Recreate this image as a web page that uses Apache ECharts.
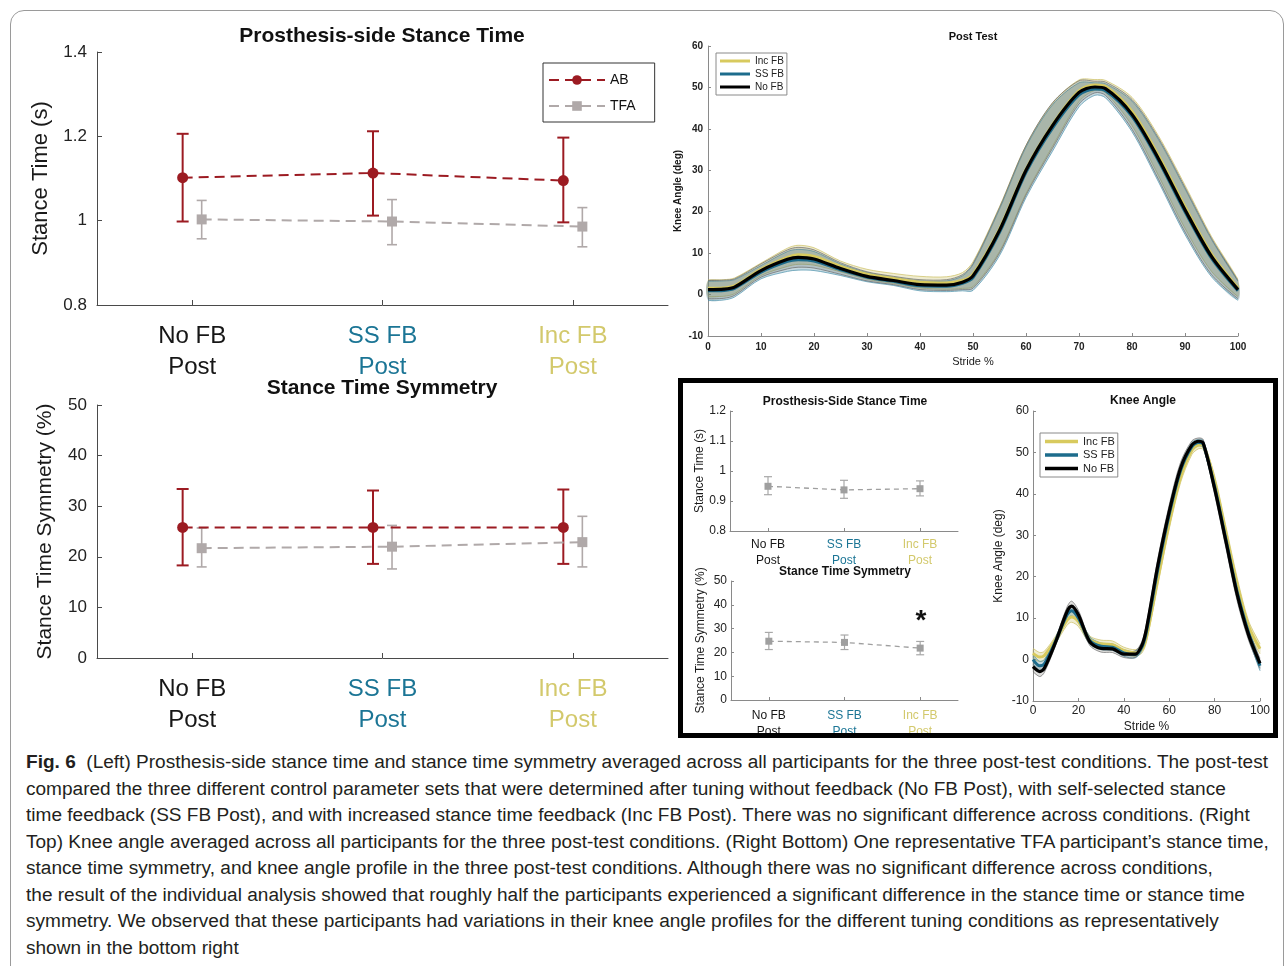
<!DOCTYPE html>
<html>
<head>
<meta charset="utf-8">
<script src="https://cdn.jsdelivr.net/npm/echarts@6/dist/echarts.min.js"></script>
<style>
  html, body { margin: 0; padding: 0; background: #fff; }
  #wrap { position: relative; width: 1285px; height: 966px; overflow: hidden; }
  #frame { position: absolute; left: 10px; top: 10px; width: 1272px; height: 1000px; border: 1px solid #9a9a9a; border-radius: 14px; }
  #chart { position: absolute; left: 0; top: 0; width: 1285px; height: 745px; }
  #caption { position: absolute; left: 26px; top: 749px; font-family: "Liberation Sans Narrow", "Liberation Sans", sans-serif; font-size: 18px; line-height: 26.5px; color: #231f20; transform-origin: 0 0; }
  #caption div { white-space: nowrap; }
  #caption b { font-weight: bold; }
</style>
</head>
<body>
<div id="wrap">
  <div id="frame"></div>
  <div id="chart"></div>
  <div id="caption">
    <div><span id="firstLine"><b>Fig. 6</b>&nbsp; (Left) Prosthesis-side stance time and stance time symmetry averaged across all participants for the three post-test conditions. The post-test</span></div>
    <div>compared the three different control parameter sets that were determined after tuning without feedback (No FB Post), with self-selected stance</div>
    <div>time feedback (SS FB Post), and with increased stance time feedback (Inc FB Post). There was no significant difference across conditions. (Right</div>
    <div>Top) Knee angle averaged across all participants for the three post-test conditions. (Right Bottom) One representative TFA participant’s stance time,</div>
    <div>stance time symmetry, and knee angle profile in the three post-test conditions. Although there was no significant difference across conditions,</div>
    <div>the result of the individual analysis showed that roughly half the participants experienced a significant difference in the stance time or stance time</div>
    <div>symmetry. We observed that these participants had variations in their knee angle profiles for the different tuning conditions as representatively</div>
    <div>shown in the bottom right</div>
  </div>
</div>
<script>
const conditions = ["No FB", "SS FB", "Inc FB"];
const conditionColors = ["#161616", "#1b7595", "#d3c96c"];

// left: all participants, mean with error bar ends
const abTime = [1.102, 1.113, 1.095];
const abTimeLow = [0.998, 1.012, 0.996];
const abTimeHigh = [1.206, 1.212, 1.197];
const tfaTime = [1.003, 0.998, 0.986];
const tfaTimeLow = [0.957, 0.943, 0.938];
const tfaTimeHigh = [1.048, 1.05, 1.031];

const abSym = [25.8, 25.8, 25.8];
const abSymLow = [18.3, 18.6, 18.6];
const abSymHigh = [33.4, 33.1, 33.3];
const tfaSym = [21.7, 22.0, 22.9];
const tfaSymLow = [18.0, 17.6, 18.0];
const tfaSymHigh = [25.7, 26.2, 28.0];

// right bottom: one TFA participant
const repTime = [0.949, 0.937, 0.941];
const repTimeLow = [0.921, 0.909, 0.917];
const repTimeHigh = [0.981, 0.969, 0.967];
const repSym = [24.7, 24.2, 21.8];
const repSymLow = [21.2, 21.2, 19.0];
const repSymHigh = [28.4, 27.3, 24.6];

// knee angle curves
const stride = [0, 3, 5, 10, 15, 17, 20, 25, 30, 35, 40, 45, 48, 50, 55, 60, 65, 70, 73, 75, 80, 85, 90, 95, 100];

const postIncFb = [1.5, 1.6, 2.1, 6.1, 9.0, 9.6, 9.2, 6.8, 4.9, 3.9, 3.0, 2.8, 3.4, 4.9, 15.8, 30.2, 41.0, 49.2, 50.6, 50.2, 44.2, 33.5, 21.2, 9.8, 1.6];
const postSsFb = [0.9, 1.0, 1.5, 5.4, 8.0, 8.4, 8.1, 6.0, 4.2, 3.2, 2.1, 2.0, 2.7, 4.1, 15.0, 29.5, 40.2, 48.2, 49.6, 49.2, 43.0, 32.3, 20.0, 8.8, 0.9];
const postNoFb = [1.2, 1.3, 1.8, 5.8, 8.5, 9.0, 8.6, 6.3, 4.4, 3.4, 2.4, 2.3, 3.0, 4.5, 15.5, 30.0, 40.8, 48.8, 50.1, 49.7, 43.5, 32.8, 20.5, 9.2, 1.2];
const postIncFbSd = [2.0, 2.0, 1.9, 1.5, 2.2, 2.3, 2.1, 1.3, 1.2, 1.2, 1.4, 1.5, 1.9, 3.0, 5.4, 5.8, 5.2, 2.6, 1.3, 1.5, 3.4, 4.8, 5.2, 4.2, 2.1];
const postSsFbSd = [2.3, 2.3, 2.1, 1.6, 2.4, 2.5, 2.3, 1.4, 1.1, 1.0, 1.2, 1.3, 1.8, 3.1, 5.6, 6.1, 5.6, 2.9, 1.5, 1.7, 3.7, 5.1, 5.5, 4.5, 2.3];
const postNoFbSd = [2.2, 2.2, 2.0, 1.6, 2.3, 2.4, 2.2, 1.4, 1.1, 1.0, 1.2, 1.3, 1.8, 3.0, 5.5, 6.0, 5.5, 2.8, 1.4, 1.6, 3.6, 5.0, 5.4, 4.4, 2.2];

const repIncFb = [1.5, 0.6, 1.0, 4.8, 9.5, 10.3, 9.2, 4.8, 3.8, 3.6, 2.2, 1.6, 2.5, 5.5, 19.5, 33.0, 44.0, 50.5, 51.8, 51.6, 43.0, 30.5, 18.0, 8.0, 2.6];
const repSsFb = [0.0, -1.5, -1.0, 4.5, 10.8, 11.8, 10.0, 4.6, 3.2, 3.0, 1.6, 1.2, 3.0, 6.8, 21.8, 35.0, 45.6, 51.4, 52.4, 52.0, 41.8, 29.0, 16.2, 6.4, -1.5];
const repNoFb = [-1.7, -2.9, -2.1, 4.3, 11.6, 12.9, 10.8, 4.3, 2.7, 2.6, 1.3, 1.3, 3.5, 7.5, 22.8, 35.7, 46.2, 51.8, 52.7, 52.2, 41.3, 28.5, 15.6, 5.9, -0.9];
const repIncFbSd = [1.2, 1.1, 1.0, 0.9, 1.2, 1.3, 1.2, 0.9, 0.9, 0.9, 0.8, 0.8, 0.9, 1.2, 1.5, 1.5, 1.3, 1.0, 0.9, 0.9, 1.4, 1.6, 1.6, 1.3, 1.2];
const repSsFbSd = [1.1, 1.1, 1.0, 0.9, 1.1, 1.2, 1.1, 0.9, 0.8, 0.8, 0.8, 0.8, 0.9, 1.2, 1.6, 1.6, 1.4, 1.0, 0.8, 0.9, 1.4, 1.6, 1.6, 1.3, 1.2];
const repNoFbSd = [1.2, 1.2, 1.0, 0.9, 1.1, 1.2, 1.1, 0.9, 0.9, 0.9, 0.8, 0.8, 0.9, 1.2, 1.6, 1.6, 1.4, 1.0, 0.8, 0.9, 1.4, 1.6, 1.6, 1.3, 1.2];

const FONT = "Liberation Sans, Arial, sans-serif";
const AB_RED = "#9c1b22";
const TFA_GRAY = "#b0a9a9";
const INC = "#d8ca5e", SS = "#1d6c8c", NO = "#000000";
const SMOOTH = 0.3;

function points(values, offset) {
  return values.map((v, i) => [i + 1 + offset, v]);
}

function errorBars(name, low, high, offset, grid, color, cap, width) {
  return {
    type: "custom",
    name: name,
    xAxisIndex: grid,
    yAxisIndex: grid,
    z: 2,
    silent: true,
    data: low.map((v, i) => [i + 1 + offset, v, high[i]]),
    encode: { x: 0, y: [1, 2] },
    renderItem(params, api) {
      const x = api.value(0);
      const lo = api.coord([x, api.value(1)]);
      const hi = api.coord([x, api.value(2)]);
      const style = { stroke: color, lineWidth: width };
      return {
        type: "group",
        children: [
          { type: "line", shape: { x1: lo[0], y1: lo[1], x2: hi[0], y2: hi[1] }, style },
          { type: "line", shape: { x1: lo[0] - cap, y1: lo[1], x2: lo[0] + cap, y2: lo[1] }, style },
          { type: "line", shape: { x1: hi[0] - cap, y1: hi[1], x2: hi[0] + cap, y2: hi[1] }, style },
        ],
      };
    },
  };
}

function meanLine(name, values, offset, grid, color, symbol, size, width, dash) {
  return {
    type: "line",
    name: name,
    xAxisIndex: grid,
    yAxisIndex: grid,
    z: 3,
    data: points(values, offset),
    symbol: symbol,
    symbolSize: size,
    itemStyle: { color: color },
    lineStyle: { color: color, width: width, type: dash },
  };
}

// shaded mean +- sd band, drawn once as a polygon through the axes' scales
function band(key, mean, sd, grid, edge, fill) {
  return {
    type: "custom", name: key, xAxisIndex: grid, yAxisIndex: grid, silent: true, z: 1,
    data: mean.map((m, i) => [stride[i], m - sd[i], m + sd[i]]),
    encode: { x: 0, y: [1, 2] },
    renderItem(params, api) {
      if (params.dataIndex !== 0) {
        return;
      }
      const lower = mean.map((m, i) => api.coord([stride[i], m - sd[i]]));
      const upper = mean.map((m, i) => api.coord([stride[i], m + sd[i]]));
      const edgeStyle = { stroke: edge, lineWidth: 0.7, fill: null };
      return {
        type: "group",
        children: [
          { type: "polygon", shape: { points: lower.concat(upper.slice().reverse()), smooth: SMOOTH }, style: { fill: fill, stroke: null } },
          { type: "polyline", shape: { points: lower, smooth: SMOOTH }, style: edgeStyle },
          { type: "polyline", shape: { points: upper, smooth: SMOOTH }, style: edgeStyle },
        ],
      };
    },
  };
}

function curve(name, values, grid, color, width) {
  return {
    type: "line", name: name, xAxisIndex: grid, yAxisIndex: grid, z: 4,
    data: values.map((v, i) => [stride[i], v]),
    symbol: "none", smooth: SMOOTH, itemStyle: { color: color },
    lineStyle: { color: color, width: width },
  };
}

function catAxis(grid, size, lineHeight, margin, axisColor, tickLen) {
  const rich = {};
  conditionColors.forEach((c, i) => {
    rich["c" + i] = { color: c, fontSize: size, lineHeight: lineHeight, fontFamily: FONT };
  });
  return {
    type: "value", gridIndex: grid, min: 0.5, max: 3.5,
    axisLine: { show: true, onZero: false, lineStyle: { color: axisColor, width: 1 } },
    axisTick: { show: true, inside: true, length: tickLen, customValues: [1, 2, 3], lineStyle: { color: axisColor } },
    axisLabel: {
      customValues: [1, 2, 3], margin: margin,
      formatter(v) {
        const i = Math.round(v) - 1;
        return "{c" + i + "|" + conditions[i] + "}\n{c" + i + "|Post}";
      },
      rich: rich,
    },
    splitLine: { show: false },
  };
}

function valAxis(grid, min, max, interval, opts) {
  return {
    type: "value", gridIndex: grid, min: min, max: max, interval: interval,
    name: opts.name, nameLocation: "middle", nameGap: opts.nameGap,
    nameTextStyle: { fontSize: opts.nameSize, color: "#1a1a1a", fontFamily: FONT, fontWeight: opts.nameWeight || "normal" },
    axisLine: { show: true, onZero: false, lineStyle: { color: opts.axisColor, width: 1 } },
    axisTick: { show: true, inside: true, length: opts.tickLen, lineStyle: { color: opts.axisColor } },
    axisLabel: { fontSize: opts.labelSize, color: "#222", margin: opts.margin, fontFamily: FONT, fontWeight: opts.labelWeight || "normal" },
    splitLine: { show: false },
  };
}

const grids = [
  { left: 97, top: 52, width: 571, height: 253 },
  { left: 97, top: 405, width: 571, height: 253 },
  { left: 708, top: 46, width: 530, height: 290 },
  { left: 730, top: 411, width: 228, height: 120 },
  { left: 731, top: 581, width: 227, height: 119 },
  { left: 1033, top: 411, width: 227, height: 290 },
];

const xAxes = [
  catAxis(0, 24, 31, 16, "#4a4a4a", 5),
  catAxis(1, 24, 31, 16, "#4a4a4a", 5),
  valAxis(2, 0, 100, 10, { name: "Stride %", nameGap: 20, nameSize: 11, axisColor: "#8a8a8a", tickLen: 3, labelSize: 10, labelWeight: "bold", margin: 6 }),
  catAxis(3, 12, 16, 6, "#8a8a8a", 3),
  catAxis(4, 12, 16, 8, "#8a8a8a", 3),
  valAxis(5, 0, 100, 20, { name: "Stride %", nameGap: 20, nameSize: 12, axisColor: "#8a8a8a", tickLen: 3, labelSize: 12, margin: 4 }),
];
const yAxes = [
  valAxis(0, 0.8, 1.4, 0.2, { name: "Stance Time (s)", nameGap: 45, nameSize: 22, axisColor: "#4a4a4a", tickLen: 5, labelSize: 17, margin: 10 }),
  valAxis(1, 0, 50, 10, { name: "Stance Time Symmetry (%)", nameGap: 41, nameSize: 21, axisColor: "#4a4a4a", tickLen: 5, labelSize: 17, margin: 10 }),
  valAxis(2, -10, 60, 10, { name: "Knee Angle (deg)", nameGap: 25, nameSize: 10, nameWeight: "bold", axisColor: "#8a8a8a", tickLen: 3, labelSize: 10, labelWeight: "bold", margin: 5 }),
  valAxis(3, 0.8, 1.2, 0.1, { name: "Stance Time (s)", nameGap: 24, nameSize: 12, axisColor: "#8a8a8a", tickLen: 3, labelSize: 12, margin: 4 }),
  valAxis(4, 0, 50, 10, { name: "Stance Time Symmetry (%)", nameGap: 24, nameSize: 12, axisColor: "#8a8a8a", tickLen: 3, labelSize: 12, margin: 4 }),
  valAxis(5, -10, 60, 10, { name: "Knee Angle (deg)", nameGap: 28, nameSize: 12, axisColor: "#8a8a8a", tickLen: 3, labelSize: 12, margin: 4 }),
];

const series = [
  errorBars("AB err", abTimeLow, abTimeHigh, -0.05, 0, AB_RED, 6, 2),
  errorBars("TFA err", tfaTimeLow, tfaTimeHigh, 0.05, 0, TFA_GRAY, 5, 1.6),
  meanLine("AB", abTime, -0.05, 0, AB_RED, "circle", 11, 2, [10, 6]),
  meanLine("TFA", tfaTime, 0.05, 0, TFA_GRAY, "rect", 10, 2, [10, 6]),

  errorBars("AB sym err", abSymLow, abSymHigh, -0.05, 1, AB_RED, 6, 2),
  errorBars("TFA sym err", tfaSymLow, tfaSymHigh, 0.05, 1, TFA_GRAY, 5, 1.6),
  meanLine("AB sym", abSym, -0.05, 1, AB_RED, "circle", 11, 2, [10, 6]),
  meanLine("TFA sym", tfaSym, 0.05, 1, TFA_GRAY, "rect", 10, 2, [10, 6]),

  band("post inc", postIncFb, postIncFbSd, 2, "#cbbf62", "rgba(205,196,110,0.32)"),
  band("post ss", postSsFb, postSsFbSd, 2, "#4a90ab", "rgba(50,120,145,0.28)"),
  band("post no", postNoFb, postNoFbSd, 2, "#6a6a6a", "rgba(110,110,100,0.22)"),
  curve("Inc FB", postIncFb, 2, INC, 3),
  curve("SS FB", postSsFb, 2, SS, 3),
  curve("No FB", postNoFb, 2, NO, 3.2),

  errorBars("rep time err", repTimeLow, repTimeHigh, 0, 3, "#a8a8a8", 4, 1.2),
  meanLine("rep time", repTime, 0, 3, "#9f9f9f", "rect", 7, 1.3, [5, 4]),
  errorBars("rep sym err", repSymLow, repSymHigh, 0, 4, "#a8a8a8", 4, 1.2),
  meanLine("rep sym", repSym, 0, 4, "#9f9f9f", "rect", 7, 1.3, [5, 4]),

  band("rep inc", repIncFb, repIncFbSd, 5, "#cbbf62", "rgba(205,196,110,0.32)"),
  band("rep ss", repSsFb, repSsFbSd, 5, "#4a90ab", "rgba(50,120,145,0.28)"),
  band("rep no", repNoFb, repNoFbSd, 5, "#6a6a6a", "rgba(110,110,100,0.22)"),
  curve("Inc FB", repIncFb, 5, INC, 3),
  curve("SS FB", repSsFb, 5, SS, 3),
  curve("No FB", repNoFb, 5, NO, 3.2),
];

function title(text, x, y, size) {
  return {
    type: "text", x: x, y: y, silent: true,
    style: { text: text, fontSize: size, fontWeight: "bold", fontFamily: FONT, fill: "#111", textAlign: "center", textVerticalAlign: "middle" },
  };
}

const chart = echarts.init(document.getElementById("chart"), null, { renderer: "canvas" });
chart.setOption({
  animation: false,
  backgroundColor: "transparent",
  textStyle: { fontFamily: FONT },
  grid: grids,
  xAxis: xAxes,
  yAxis: yAxes,
  legend: [
    {
      data: ["AB", "TFA"], left: 543, top: 63, orient: "vertical", selectedMode: false,
      borderColor: "#333", borderWidth: 1, padding: [10, 19, 9, 5], itemGap: 12,
      itemWidth: 56, itemHeight: 12, textStyle: { fontSize: 14, color: "#111", fontFamily: FONT },
    },
    {
      data: ["Inc FB", "SS FB", "No FB"], left: 716, top: 53, orient: "vertical", selectedMode: false,
      icon: "rect", borderColor: "#8a8a8a", borderWidth: 1, padding: [3, 3, 3, 4], itemGap: 3,
      itemWidth: 30, itemHeight: 3, textStyle: { fontSize: 10, color: "#222", fontFamily: FONT },
    },
    {
      data: ["Inc FB", "SS FB", "No FB"], left: 1040, top: 433, orient: "vertical", selectedMode: false,
      icon: "rect", borderColor: "#8a8a8a", borderWidth: 1, padding: [3, 3, 3, 5], itemGap: 2.5,
      itemWidth: 33, itemHeight: 3.5, textStyle: { fontSize: 11, color: "#222", fontFamily: FONT },
    },
  ],
  graphic: [
    title("Prosthesis-side Stance Time", 382, 36, 21),
    title("Stance Time Symmetry", 382, 388, 21),
    title("Post Test", 973, 37, 11),
    title("Prosthesis-Side Stance Time", 845, 402, 12),
    title("Stance Time Symmetry", 845, 572, 12),
    title("Knee Angle", 1143, 401, 12),
    title("*", 921, 621, 28),
    {
      type: "rect", silent: true, z: 100,
      shape: { x: 680.5, y: 380.5, width: 595, height: 355 },
      style: { fill: "none", stroke: "#000", lineWidth: 5 },
    },
  ],
  series: series,
});

// fit the caption to the original line width
const first = document.getElementById("firstLine");
const cap = document.getElementById("caption");
const scale = 1242 / first.getBoundingClientRect().width;
cap.style.transform = "scaleX(" + scale + ")";
</script>
</body>
</html>
